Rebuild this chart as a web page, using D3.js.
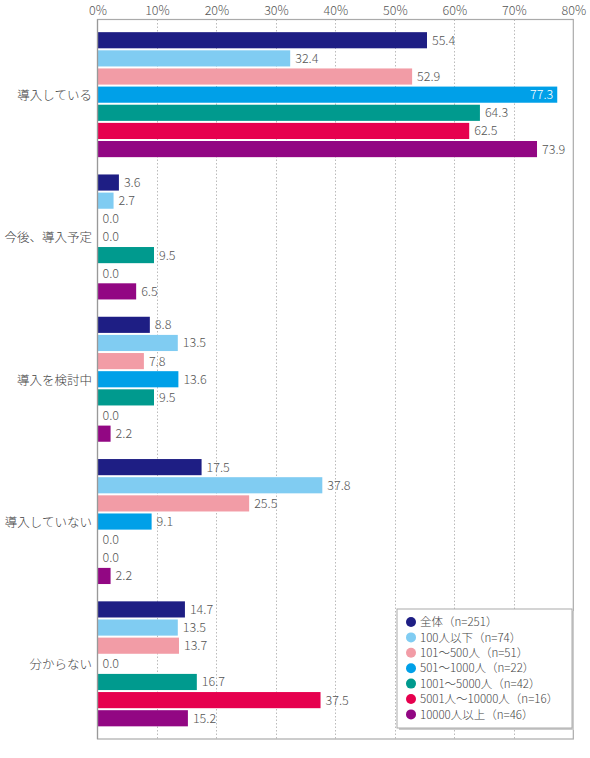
<!DOCTYPE html>
<html><head><meta charset="utf-8">
<script src="https://cdn.jsdelivr.net/npm/d3@7"></script>
<style>
html,body{margin:0;padding:0;background:#fff;}
text{font-family:"Noto Sans CJK JP","Noto Sans",sans-serif;font-weight:300;}
</style></head>
<body><svg id="c" width="590" height="758"></svg>
<script>
const categories = ["導入している","今後、導入予定","導入を検討中","導入していない","分からない"];
const seriesNames = ["全体（n=251）","100人以下（n=74）","101～500人（n=51）","501～1000人（n=22）","1001～5000人（n=42）","5001人～10000人（n=16）","10000人以上（n=46）"];
const seriesColors = ["#1e1e84","#80ccf2","#f29ca6","#00a0e8","#009a8e","#e6004e","#920783"];
const s0 = [55.4, 3.6, 8.8, 17.5, 14.7];
const s1 = [32.4, 2.7, 13.5, 37.8, 13.5];
const s2 = [52.9, 0.0, 7.8, 25.5, 13.7];
const s3 = [77.3, 0.0, 13.6, 9.1, 0.0];
const s4 = [64.3, 9.5, 9.5, 0.0, 16.7];
const s5 = [62.5, 0.0, 0.0, 0.0, 37.5];
const s6 = [73.9, 6.5, 2.2, 2.2, 15.2];
const seriesValues = [s0,s1,s2,s3,s4,s5,s6];
const ticks = [0,10,20,30,40,50,60,70,80];

const svg = d3.select("#c");
const L = 97.5, R = 573.3, T = 19.5, B = 739;
const x = d3.scaleLinear().domain([0,80]).range([L,R]);
const y0 = d3.scaleBand().domain(categories).range([T,B]).paddingInner(0.1216).paddingOuter(0.089);
const y1 = d3.scaleBand().domain(d3.range(7)).range([0,y0.bandwidth()]).paddingInner(0.11).paddingOuter(0);

// grid
svg.append("g").selectAll("line").data(ticks.slice(1,-1)).join("line")
  .attr("x1",d=>Math.round(x(d))+0.5).attr("x2",d=>Math.round(x(d))+0.5)
  .attr("y1",T).attr("y2",B)
  .attr("stroke","#bbb").attr("stroke-width",1).attr("stroke-dasharray","1.5,2");

// top axis labels
const ax = d3.axisTop(x).tickValues(ticks).tickFormat(d=>d+"%").tickSize(0).tickPadding(0);
const axg = svg.append("g").attr("transform",`translate(0,${T-5})`).call(ax);
axg.select(".domain").remove();
axg.selectAll("text").attr("fill","#555").attr("font-size","12.5px").attr("dy","0");

// bars
const groups = svg.append("g").selectAll("g").data(categories).join("g")
  .attr("transform",d=>`translate(0,${y0(d)})`);
groups.each(function(cat,ci){
  const g = d3.select(this);
  const data = seriesValues.map((s,si)=>({si, v:s[ci]}));
  g.selectAll("rect").data(data.filter(d=>d.v>0)).join("rect")
    .attr("x",x(0)).attr("y",d=>y1(d.si))
    .attr("width",d=>x(d.v)-x(0)).attr("height",y1.bandwidth())
    .attr("fill",d=>seriesColors[d.si]);
  g.selectAll("text").data(data).join("text")
    .attr("x",d=> d.v>75 ? x(d.v)-4 : x(d.v)+5)
    .attr("y",d=>y1(d.si)+y1.bandwidth()/2)
    .attr("dy","0.36em")
    .attr("text-anchor",d=> d.v>75 ? "end":"start")
    .attr("fill",d=> d.v>75 ? "#fff":"#555")
    .attr("font-size","12.5px")
    .text(d=>d.v.toFixed(1));
});

// category labels
svg.append("g").selectAll("text").data(categories).join("text")
  .attr("x",92).attr("y",d=>y0(d)+y0.bandwidth()/2+1).attr("dy","0.36em")
  .attr("text-anchor","end").attr("fill","#444").attr("font-size","12.5px")
  .text(d=>d);

// frame
svg.append("rect").attr("x",L).attr("y",T).attr("width",R-L).attr("height",B-T)
  .attr("fill","none").attr("stroke","#aaa").attr("stroke-width",1.2);
svg.append("line").attr("x1",L).attr("x2",L).attr("y1",T).attr("y2",B)
  .attr("stroke","#999").attr("stroke-width",1.2);

// legend
const lx = 397, ly = 609, lw = 175, lh = 119;
svg.append("rect").attr("x",lx+2).attr("y",ly+2).attr("width",lw).attr("height",lh).attr("fill","#ccc");
svg.append("rect").attr("x",lx).attr("y",ly).attr("width",lw).attr("height",lh)
  .attr("fill","#fff").attr("stroke","#aaa").attr("stroke-width",1);
const li = svg.append("g").selectAll("g").data(seriesNames).join("g")
  .attr("transform",(d,i)=>`translate(${lx},${ly+13+i*15.4})`);
li.append("circle").attr("cx",14).attr("cy",0).attr("r",5).attr("fill",(d,i)=>seriesColors[i]);
li.append("text").attr("x",23).attr("y",0).attr("dy","0.36em").attr("font-size","11.5px").attr("fill","#444").text(d=>d);
</script></body></html>
